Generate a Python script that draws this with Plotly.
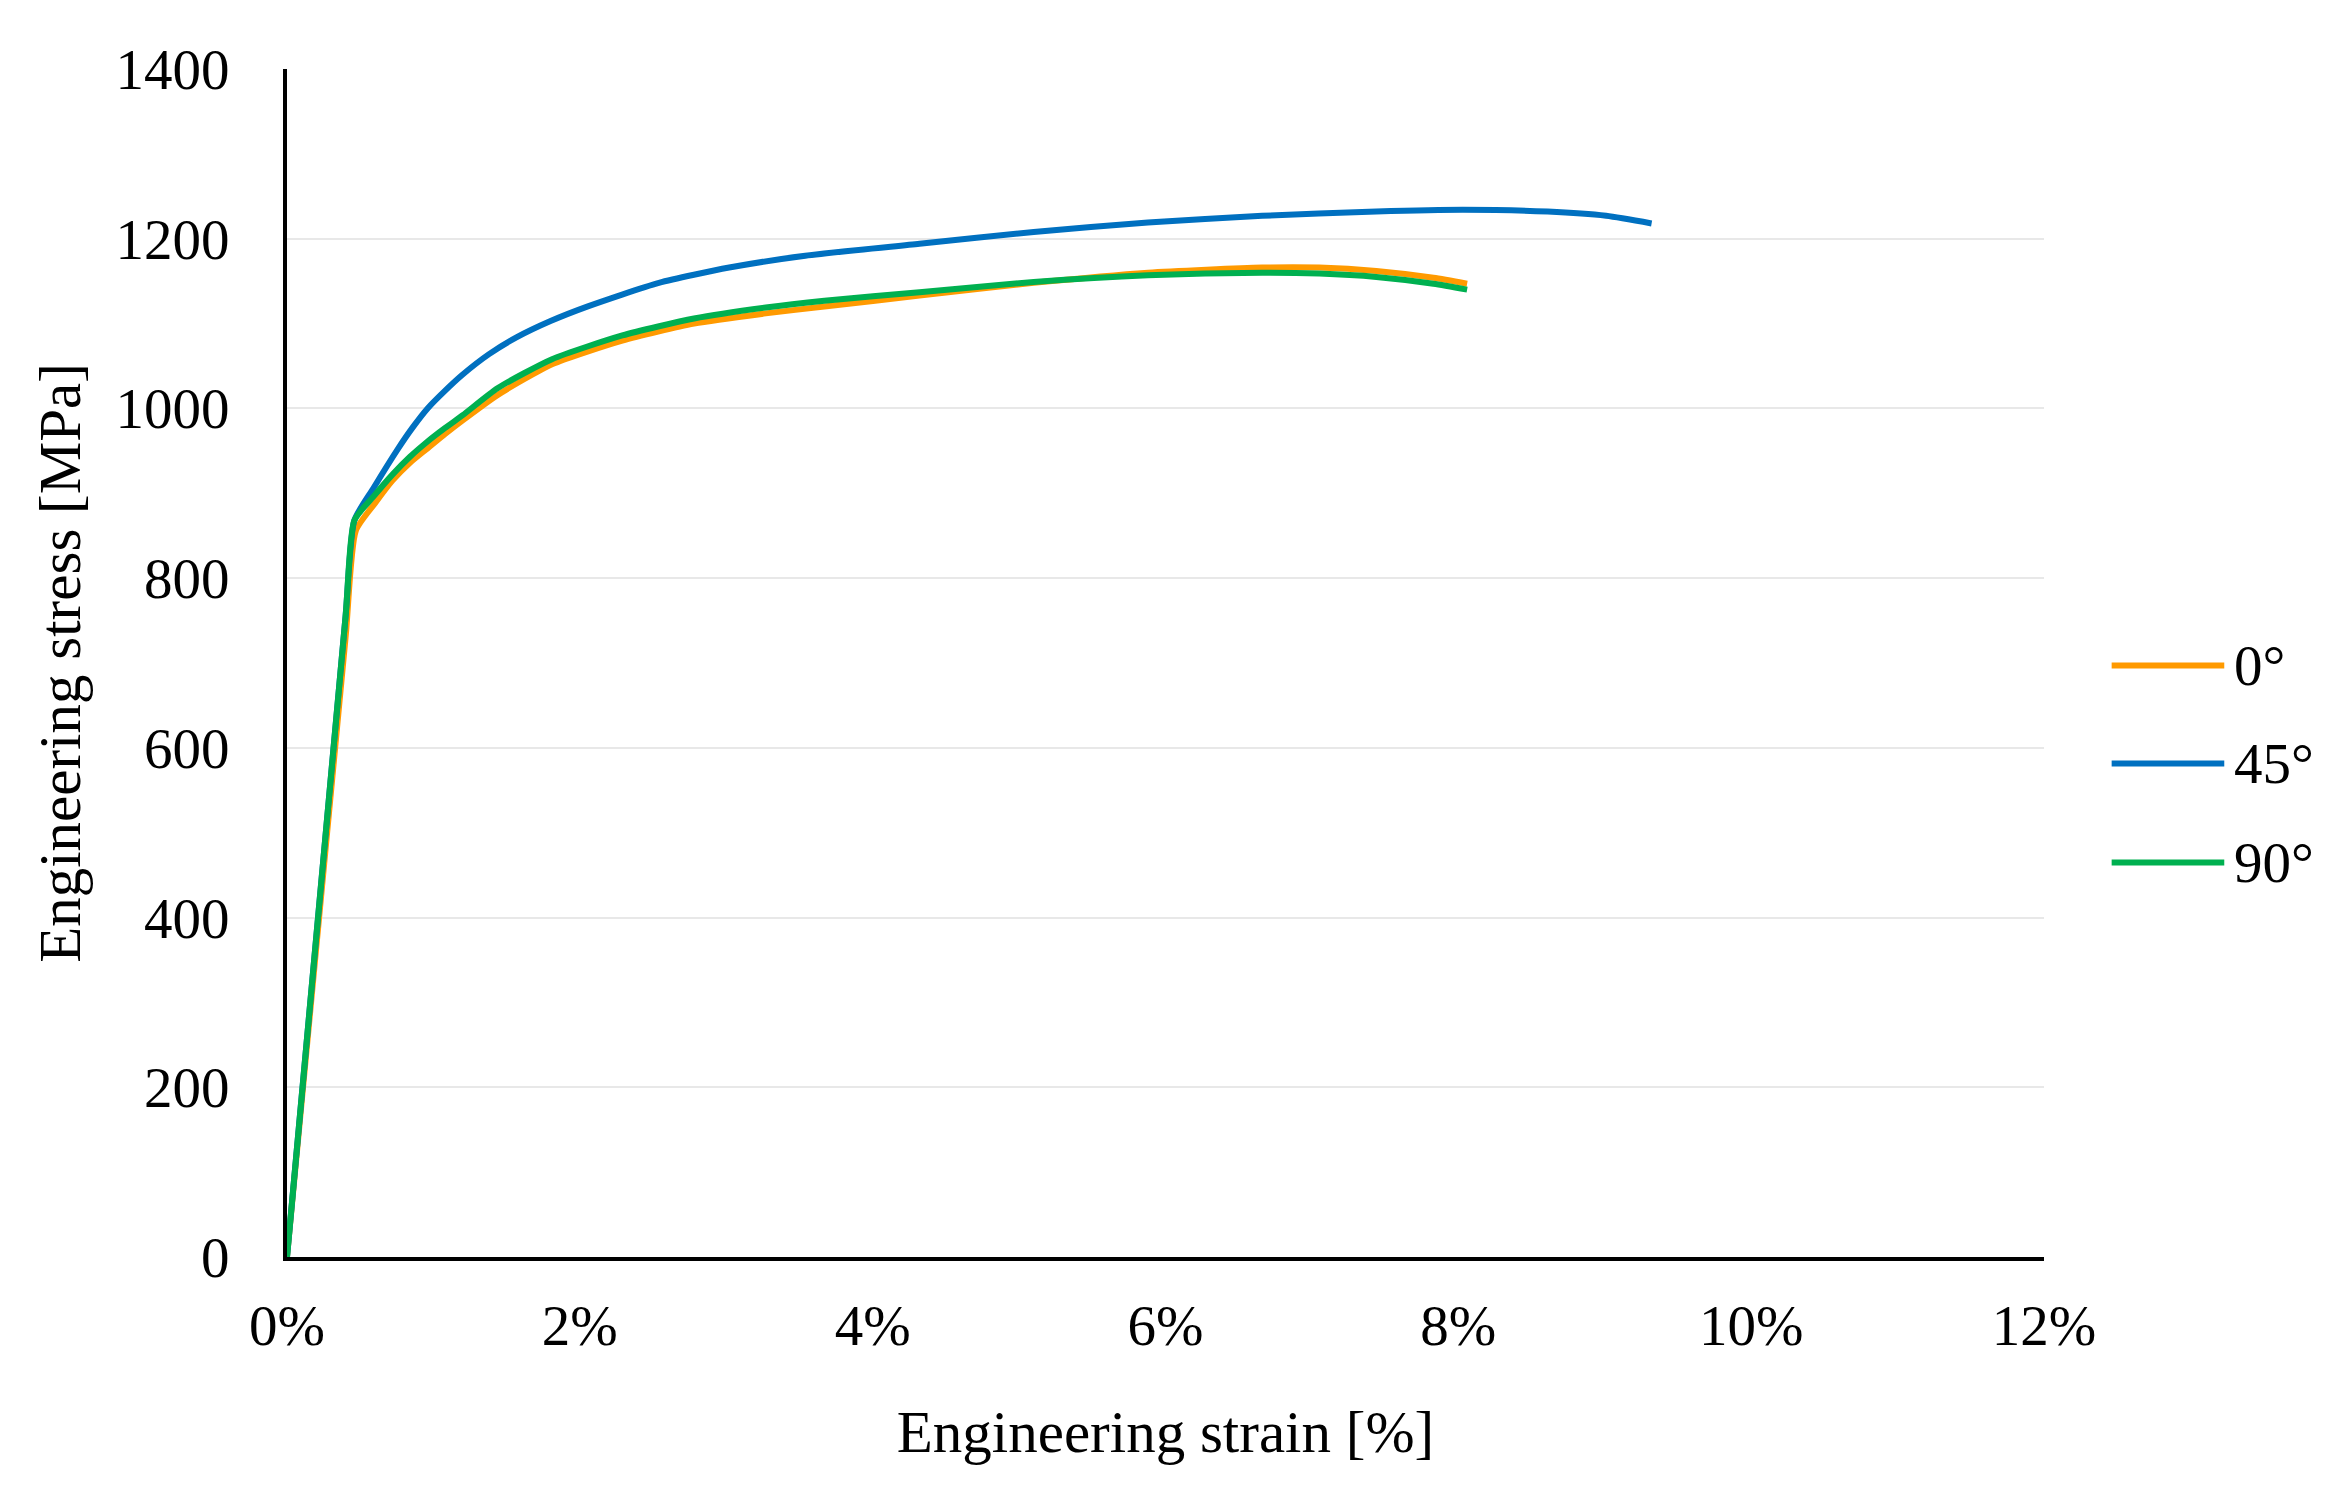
import plotly.graph_objects as go

# ---- data (strain in %, stress in MPa) ----
strain_0 = [0, 0.40, 0.47, 0.60, 0.72, 0.84, 0.96, 1.08, 1.20, 1.44, 1.81, 2.29, 2.78, 3.27, 3.67, 4.32, 5.10, 5.88, 6.66, 7.05, 7.44, 7.83, 8.06]
stress_0 = [0, 730, 856, 888, 915, 936, 953, 970, 986, 1016, 1052, 1080, 1100, 1112, 1120, 1133, 1148, 1160, 1166, 1166, 1162, 1154, 1147]

strain_45 = [0, 0.40, 0.46, 0.59, 0.76, 0.86, 0.96, 1.08, 1.20, 1.38, 1.57, 1.80, 2.05, 2.54, 3.02, 3.54, 4.32, 5.10, 5.88, 6.66, 7.44, 8.03, 8.61, 9.01, 9.32]
stress_45 = [0, 755, 868, 906, 953, 978, 1000, 1021, 1040, 1064, 1084, 1103, 1120, 1148, 1166, 1180, 1194, 1208, 1219, 1227, 1232, 1234, 1232, 1227, 1218]

strain_90 = [0, 0.40, 0.46, 0.59, 0.72, 0.84, 0.96, 1.08, 1.20, 1.44, 1.81, 2.29, 2.78, 3.27, 3.67, 4.32, 5.10, 5.88, 6.66, 7.05, 7.44, 7.83, 8.06]
stress_90 = [0, 755, 868, 896, 922, 943, 961, 977, 992, 1024, 1058, 1086, 1106, 1119, 1127, 1137, 1149, 1157, 1160, 1159, 1155, 1147, 1140]

series_names = ["0°", "45°", "90°"]
x_ticks = [0, 2, 4, 6, 8, 10, 12]
y_ticks = [0, 200, 400, 600, 800, 1000, 1200, 1400]

colors = {"0°": "#FF9A00", "45°": "#0070C0", "90°": "#00B050"}
FONT = "Liberation Serif, Times New Roman, serif"

fig = go.Figure()
draw_order = [("0°", strain_0, stress_0), ("45°", strain_45, stress_45), ("90°", strain_90, stress_90)]
for name, xs, ys in draw_order:
    fig.add_trace(go.Scatter(
        x=xs, y=ys, mode="lines", name=name,
        line=dict(color=colors[name], width=6, shape="spline", smoothing=0.6),
        showlegend=False,
    ))

# custom legend (long swatches like the reference)
leg_y = [0.498, 0.4155, 0.332]
for name, yy in zip(series_names, leg_y):
    fig.add_shape(type="line", xref="paper", yref="paper",
                  x0=1.0385, x1=1.1026, y0=yy, y1=yy,
                  line=dict(color=colors[name], width=6))
    fig.add_annotation(xref="paper", yref="paper", x=1.107, y=yy,
                       text=name, showarrow=False, xanchor="left", yanchor="middle",
                       font=dict(family=FONT, size=57, color="#000000"))

fig.update_layout(
    width=2333, height=1490,
    margin=dict(l=279, r=297, t=61, b=241),
    paper_bgcolor="white", plot_bgcolor="white",
    font=dict(family=FONT, size=57, color="#000000"),
    showlegend=False,
)
fig.update_xaxes(
    range=[0, 12], tickvals=x_ticks, ticktext=[f"{v}%" for v in x_ticks],
    showgrid=False, zeroline=False,
    showline=True, linecolor="#000000", linewidth=4,
    ticks="", ticklabelstandoff=16,
    tickfont=dict(family=FONT, size=57),
    title=dict(text="Engineering strain [%]", font=dict(family=FONT, size=59), standoff=55),
)
fig.update_yaxes(
    range=[0, 1400], tickvals=y_ticks,
    showgrid=True, gridcolor="#E8E8E8", gridwidth=2,
    zeroline=False,
    showline=True, linecolor="#000000", linewidth=4,
    ticks="", ticklabelstandoff=42,
    tickfont=dict(family=FONT, size=57),
    title=dict(text="Engineering stress [MPa]", font=dict(family=FONT, size=59), standoff=17),
)

fig.write_html("out.html")
